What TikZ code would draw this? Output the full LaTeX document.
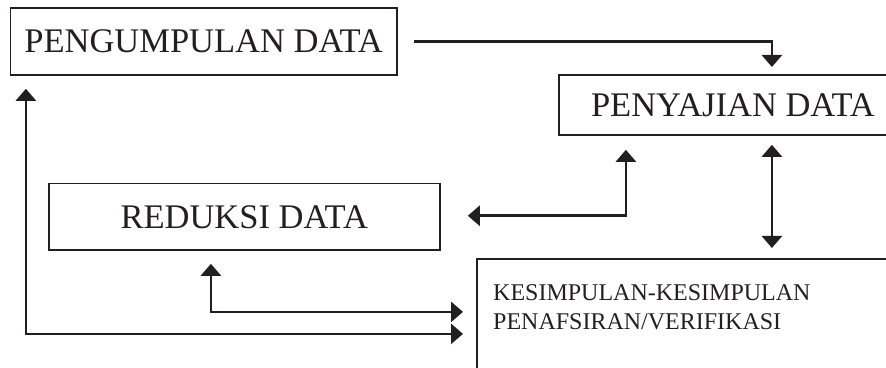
\documentclass[tikz,border=0pt]{standalone}
\usepackage{fontspec}
\setmainfont{Liberation Serif}
\usetikzlibrary{arrows.meta,calc}
\definecolor{ink}{HTML}{231F20}
\tikzset{
  box/.style={draw=ink, line width=1.8pt, rectangle, inner sep=0pt, anchor=north west, text=ink},
  bigtext/.style={font=\fontsize{34.5}{40}\selectfont},
  conn/.style={draw=ink, line width=2.7pt, line join=miter},
  tip/.tip={Triangle[width=20pt,length=12pt]}
}
\begin{document}
\begin{tikzpicture}[x=1pt,y=1pt]
\useasboundingbox (0,0) rectangle (886,367);
\clip (0,0) rectangle (886,367);
\node[box, bigtext, minimum width=386.5pt, minimum height=67pt] (A) at (9.5,360) {PENGUMPULAN DATA};
\node[box, bigtext, minimum width=348pt, minimum height=60pt] (B) at (558,293) {PENYAJIAN DATA};
\node[box, bigtext, minimum width=391.3pt, minimum height=66.3pt] (C) at (47.7,184.3) {REDUKSI DATA};
\node[box, minimum width=440pt, minimum height=150pt] (D) at (476,109) {};
\node[anchor=north west, inner sep=0pt, align=left, text=ink, font=\fontsize{24}{28.5}\selectfont] (Dt) at (493,82.3) {KESIMPULAN-KESIMPULAN\\PENAFSIRAN/VERIFIKASI};
% connectors
\draw[conn, -{tip}] ([xshift=16pt]A.east) -| ($(B.north)+(39,7)$);
\draw[conn, {tip}-{tip}] ($(B.south)+(-107,-14)$) |- ($(C.east)+(27,1)$);
\draw[conn, {tip}-{tip}] ($(B.south)+(39,-9)$) -- ($(D.north)+(75,10)$);
\draw[conn, {tip}-{tip}] ($(C.south)+(-33.35,-13)$) |- ($(D.west)+(-13,22)$);
\draw[conn, {tip}-{tip}] ($(A.south)+(-177.75,-13)$) |- ($(D.west)+(-13,0)$);
\end{tikzpicture}
\end{document}
